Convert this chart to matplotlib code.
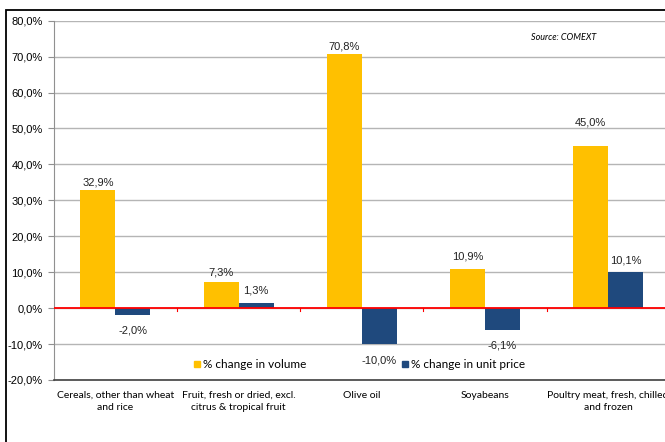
import matplotlib.pyplot as plt
import numpy as np
from matplotlib.lines import Line2D
from matplotlib.patches import Rectangle

# categories and % changes
categories = ["Cereals, other than wheat\nand rice",
              "Fruit, fresh or dried, excl.\ncitrus & tropical fruit",
              "Olive oil",
              "Soyabeans",
              "Poultry meat, fresh, chilled\nand frozen"]
volume = [32.9, 7.3, 70.8, 10.9, 45.0]
unit_price = [-2.0, 1.3, -10.0, -6.1, 10.1]

# label offsets in points (how far each data label sits from its bar end)
vol_off = [5, 7, 5, 9, 17]
price_off = [-11, 9, -12, -11, 8]

YELLOW = '#FFC000'
BLUE = '#1F497D'

fig = plt.figure(figsize=(6.65, 4.42), dpi=100)
ax = fig.add_axes([0.0808, 0.1403, 0.9263, 0.8129])

x = np.arange(len(categories))
w = 0.284
ax.bar(x - w / 2, volume, w, color=YELLOW, zorder=3)
ax.bar(x + w / 2, unit_price, w, color=BLUE, zorder=3)

for i, v in enumerate(volume):
    ax.annotate(f"{v:.1f}%".replace('.', ','), (x[i] - w / 2, v),
                xytext=(0, vol_off[i]), textcoords='offset points',
                ha='center', va='center', fontsize=8,
                family='Liberation Sans', color='#222222')
for i, v in enumerate(unit_price):
    ax.annotate(f"{v:.1f}%".replace('.', ','), (x[i] + w / 2, v),
                xytext=(0, price_off[i]), textcoords='offset points',
                ha='center', va='center', fontsize=8,
                family='Liberation Sans', color='#222222')

ax.set_xlim(-0.5, len(categories) - 0.5)
ax.set_ylim(-20, 80)
ax.set_yticks(np.arange(-20, 81, 10))
ax.set_yticklabels([f"{t:.1f}%".replace('.', ',') for t in np.arange(-20, 81, 10)],
                   family='Liberation Sans', fontsize=8)
ax.yaxis.grid(True, color='#B5B5B5', linewidth=1, zorder=0)
ax.tick_params(axis='y', length=4, color='#909090', pad=4)

ax.set_xticks(x)
ax.set_xticklabels(categories, family='Lato', fontsize=7.5, linespacing=1.35)
ax.tick_params(axis='x', length=0, pad=8)

for s in ['top', 'right']:
    ax.spines[s].set_visible(False)
ax.spines['left'].set_color('#909090')
ax.spines['bottom'].set_color('#404040')
ax.spines['bottom'].set_linewidth(1.2)

# zero line with small tick marks between categories
ax.axhline(0, color='#FF0000', linewidth=1.3, zorder=4)
for b in x[:-1] + 0.5:
    ax.plot([b, b], [0, -0.7], color='#FF0000', linewidth=0.8, zorder=4)

handles = [Line2D([], [], marker='s', linestyle='none', markersize=5,
                  markerfacecolor=YELLOW, markeredgecolor=YELLOW),
           Line2D([], [], marker='s', linestyle='none', markersize=5,
                  markerfacecolor=BLUE, markeredgecolor=BLUE)]
ax.legend(handles, ["% change in volume", "% change in unit price"],
          ncol=2, loc='center', bbox_to_anchor=(0.4945, 0.0423),
          frameon=False, handletextpad=0.1, handlelength=0.8,
          columnspacing=7.95, prop={'family': 'Lato', 'size': 8.5})

fig.text(0.847, 0.916, "Source: COMEXT", family='Lato', style='italic',
         fontsize=6.5, ha='center', va='center')

# outer chart frame
fig.patches.append(Rectangle((6 / 665, -0.1), 1.2, (442 - 10) / 442 + 0.1,
                             transform=fig.transFigure, fill=False,
                             edgecolor='black', linewidth=1.3))

fig.savefig('out.png', dpi=100)
